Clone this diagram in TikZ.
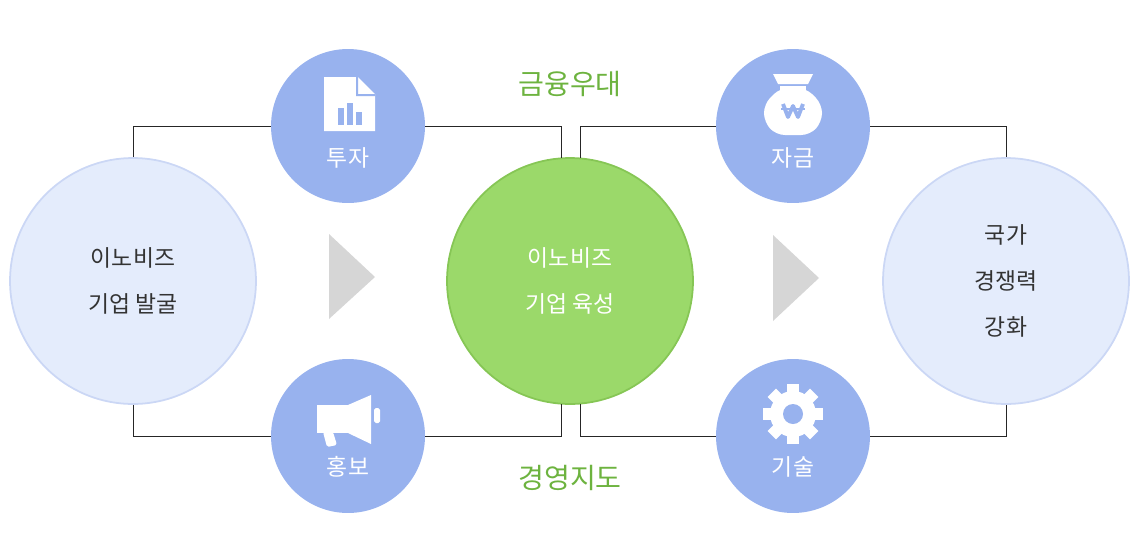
\documentclass[tikz,border=0pt]{standalone}
\usepackage{fontspec}
\setmainfont{Noto Sans CJK KR}
\definecolor{bigblue}{HTML}{E4ECFC}
\definecolor{bigline}{HTML}{CBD7F5}
\definecolor{midgreen}{HTML}{9BD96A}
\definecolor{midline}{HTML}{86C655}
\definecolor{smallblue}{HTML}{98B2EE}
\definecolor{labgreen}{HTML}{6DB33F}
\definecolor{arrgray}{HTML}{D6D6D6}
\definecolor{txt}{HTML}{333333}
\begin{document}
\begin{tikzpicture}[x=0.02cm, y=-0.02cm,
  bignode/.style={circle, minimum size=4.92cm, inner sep=0pt, align=center, font=\fontsize{13}{26}\selectfont},
  smallnode/.style={circle, minimum size=3.08cm, fill=smallblue, inner sep=0pt},
  smalltext/.style={text=white, font=\fontsize{13}{15}\selectfont},
  linknode/.style={draw=black!85, line width=0.5pt},
  tag/.style={text=labgreen, font=\fontsize{16}{18}\selectfont}]
\useasboundingbox (0,0) rectangle (1140,555);

%big circles
  \node[bignode, fill=bigblue, draw=bigline, line width=1pt, text=txt] (disc) at (133,281) {이노비즈\\기업 발굴};
  \node[bignode, fill=midgreen, draw=midline, line width=1pt, text=white] (grow) at (570,281) {이노비즈\\기업 육성};
  \node[bignode, fill=bigblue, draw=bigline, line width=1pt, text=txt] (nation) at (1006,281) {국가\\경쟁력\\강화};

%small circles
  \node[smallnode] (invest) at (348,126) {};
  \node[smallnode] (promo) at (348,436) {};
  \node[smallnode] (fund) at (793,126) {};
  \node[smallnode] (tech) at (793,436) {};

%labels
  \node[tag] (finance) at (570,84) {금융우대};
  \node[tag] (manage) at (570,478) {경영지도};

%connectors
  \coordinate (gtl) at (561,158);
  \coordinate (gtr) at (580,158);
  \coordinate (gbl) at (561,404);
  \coordinate (gbr) at (580,404);
  \draw[linknode] (disc.north) |- (invest.west);
  \draw[linknode] (invest.east) -| (gtl);
  \draw[linknode] (disc.south) |- (promo.west);
  \draw[linknode] (promo.east) -| (gbl);
  \draw[linknode] (gtr) |- (fund.west);
  \draw[linknode] (fund.east) -| (nation.north);
  \draw[linknode] (gbr) |- (tech.west);
  \draw[linknode] (tech.east) -| (nation.south);

  \node[smalltext] (investt) at (348,158) {투자};
  \node[smalltext] (promot) at (348,467) {홍보};
  \node[smalltext] (fundt) at (793,158) {자금};
  \node[smalltext] (techt) at (793,467) {기술};

%arrows
  \fill[arrgray] (329,234) -- (375,277) -- (329,319) -- cycle;
  \fill[arrgray] (773,235) -- (819,278) -- (773,321) -- cycle;

%document icon
  \fill[white] (324,77) -- (358,77) -- (375,94) -- (375,131) -- (324,131) -- cycle;
  \fill[smallblue] (358,77) -- (358,94) -- (375,94) -- (375,96) -- (356,96) -- (356,77) -- cycle;
  \fill[smallblue] (338,108) rectangle (344,125);
  \fill[smallblue] (347,103) rectangle (353,125);
  \fill[smallblue] (356,112) rectangle (362,125);

%megaphone icon
  \fill[white] (317,405) rectangle (349,433);
  \fill[white] (348,405) -- (371,395) -- (371,444) -- (348,433) -- cycle;
  \fill[white, rounded corners=1pt] (374,408) rectangle (380,423);
  \fill[white, rounded corners=1pt] (323,432) -- (333,432) -- (337,445) -- (327,447) -- cycle;

%money bag icon
  \fill[white] (773,74) -- (813,74) -- (808,84) -- (778,84) -- cycle;
  \fill[white] (780,86) rectangle (806,92);
  \fill[white, rounded corners=5pt] (780,88) -- (806,88) -- (822,104) -- (822,122) -- (810,135) -- (776,135) -- (764,122) -- (764,104) -- cycle;
  \draw[smallblue, line width=2.2pt, line join=round] (783,104) -- (788,117) -- (793,106) -- (798,117) -- (803,104);
  \draw[smallblue, line width=1.6pt] (781,109) -- (805,109);

%gear icon
  \fill[white] (793,414) circle (23);
  \foreach \a in {0,45,...,315}
    \fill[white, rotate around={\a:(793,414)}] (787,384) rectangle (799,396);
  \fill[smallblue] (793,414) circle (10);
\end{tikzpicture}
\end{document}
